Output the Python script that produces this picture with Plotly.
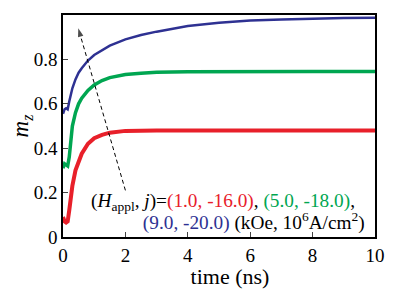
import plotly.graph_objects as go

t = [0, 0.05, 0.1, 0.15, 0.2, 0.25, 0.3, 0.4, 0.5, 0.6, 0.8, 1.0, 1.25, 1.5,
     2.0, 2.5, 3.0, 4.0, 5.0, 6.0, 7.0, 8.0, 9.0, 10.0]
mz_blue = [0.555, 0.575, 0.58, 0.575, 0.61, 0.645, 0.67, 0.71, 0.74, 0.76, 0.795,
           0.82, 0.84, 0.862, 0.89, 0.91, 0.925, 0.95, 0.965, 0.975, 0.98, 0.984,
           0.987, 0.988]
mz_green = [0.31, 0.33, 0.325, 0.32, 0.36, 0.44, 0.50, 0.56, 0.60, 0.625, 0.66,
            0.685, 0.705, 0.718, 0.732, 0.738, 0.742, 0.744, 0.745, 0.745, 0.745,
            0.745, 0.745, 0.745]
mz_red = [0.09, 0.07, 0.065, 0.07, 0.12, 0.18, 0.23, 0.30, 0.34, 0.375, 0.42,
          0.445, 0.46, 0.47, 0.478, 0.48, 0.48, 0.48, 0.48, 0.48, 0.48, 0.48,
          0.48, 0.48]

x_ticks = [0, 2, 4, 6, 8, 10]
y_ticks = [0, 0.2, 0.4, 0.6, 0.8, 1.0]
y_ticktext = ["0", "0.2", "0.4", "0.6", "0.8", "1.0"]

arrow_x = [2.0, 0.49]
arrow_y = [0.21, 0.94]

label_x = [0.90, 2.56]
label_y = [0.155, 0.058]

RED = "#e8202a"
GREEN = "#00a651"
BLUE = "#2e3192"
FONT = "Liberation Serif"

line1 = ("(<i>H</i><sub>appl</sub>, <i>j</i>)="
         f"<span style='color:{RED}'>(1.0, -16.0)</span>, "
         f"<span style='color:{GREEN}'>(5.0, -18.0)</span>,")
line2 = (f"<span style='color:{BLUE}'>(9.0, -20.0)</span> (kOe, 10<sup>6</sup>A/cm<sup>2</sup>)")

fig = go.Figure()
fig.add_trace(go.Scatter(x=t, y=mz_red, mode="lines",
                         line=dict(color=RED, width=4)))
fig.add_trace(go.Scatter(x=t, y=mz_green, mode="lines",
                         line=dict(color=GREEN, width=3.5)))
fig.add_trace(go.Scatter(x=t, y=mz_blue, mode="lines",
                         line=dict(color=BLUE, width=2.5)))
fig.add_trace(go.Scatter(x=arrow_x, y=arrow_y, mode="lines+markers",
                         line=dict(color="black", width=1, dash="4px,3px"),
                         marker=dict(symbol="arrow", size=[0, 9], angleref="previous",
                                     color="black", line=dict(width=0))))
fig.add_trace(go.Scatter(x=label_x, y=label_y, mode="text", text=[line1, line2],
                         textposition="middle right", cliponaxis=False,
                         textfont=dict(family=FONT, size=19.3, color="black")))

fig.update_layout(
    width=408, height=281,
    margin=dict(l=55, r=41, t=7, b=52, autoexpand=False),
    paper_bgcolor="white", plot_bgcolor="white",
    showlegend=False,
    font=dict(family=FONT, color="black", size=19),
)
fig.update_xaxes(showline=True, linecolor="black", linewidth=1.5, mirror=True,
                 ticks="inside", ticklen=5, range=[0, 10], tickvals=x_ticks,
                 showgrid=False, zeroline=False, automargin=False,
                 title=dict(text="&nbsp;&nbsp;&nbsp;&nbsp;time (ns)", standoff=13,
                            font=dict(family=FONT, size=22, color="black")))
fig.update_yaxes(showline=True, linecolor="black", linewidth=1.5, mirror=True,
                 ticks="inside", ticklen=5, range=[0, 1.0], tickvals=y_ticks,
                 ticktext=y_ticktext, showgrid=False, zeroline=False, automargin=False,
                 title=dict(text="<i>m<sub>z</sub></i>", standoff=17,
                            font=dict(family=FONT, size=23, color="black")))

fig.write_html("out.html")
